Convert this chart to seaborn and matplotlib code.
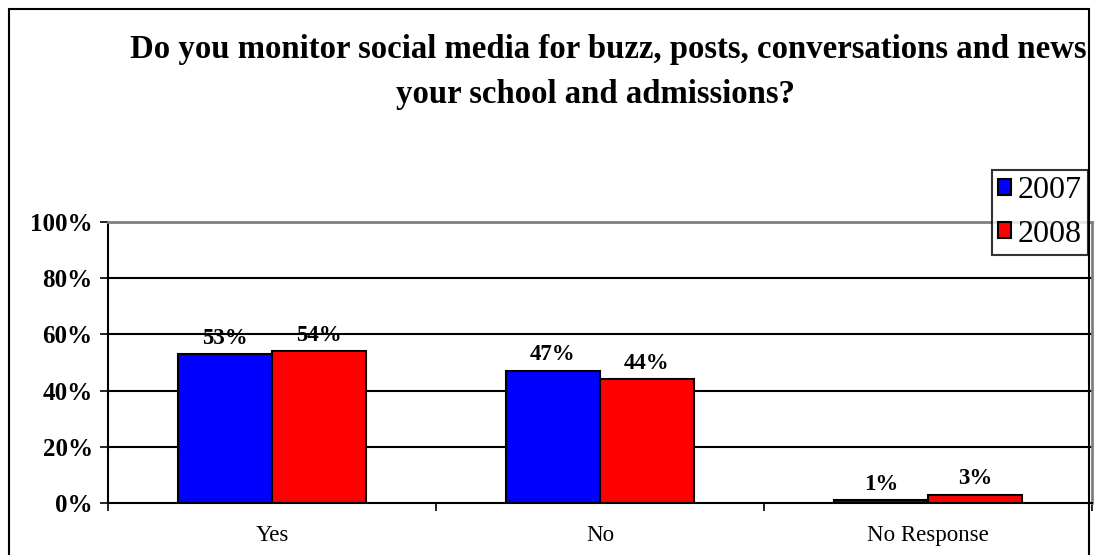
import pandas as pd
import matplotlib.pyplot as plt
import seaborn as sns
from matplotlib.patches import Rectangle
from matplotlib.ticker import FuncFormatter

# Data
categories = ['Yes', 'No', 'No Response']
years = ['2007', '2008']
values_2007 = [53, 47, 1]
values_2008 = [54, 44, 3]
colors = ['#0000FF', '#FF0000']
y_ticks = [0, 20, 40, 60, 80, 100]

df = pd.DataFrame({
    'answer': categories * 2,
    'year': [years[0]] * 3 + [years[1]] * 3,
    'pct': values_2007 + values_2008,
})

sns.set_style('white')
plt.rcParams['font.family'] = ['Liberation Serif', 'DejaVu Serif']
plt.rcParams['text.color'] = 'black'
plt.rcParams['xtick.color'] = 'black'
plt.rcParams['ytick.color'] = 'black'
plt.rcParams['axes.labelcolor'] = 'black'

fig = plt.figure(figsize=(11.02, 5.55), dpi=100)
ax = fig.add_axes([108 / 1102, 1 - 503 / 555, (1092 - 108) / 1102, (503 - 222) / 555])

sns.barplot(data=df, x='answer', y='pct', hue='year', order=categories,
            hue_order=years, palette=colors, width=0.573, saturation=1,
            edgecolor='black', linewidth=1.5, ax=ax)

ax.set_xlim(-0.5, 2.5)
ax.set_ylim(0, 100)
ax.set_yticks(y_ticks)
ax.yaxis.set_major_formatter(FuncFormatter(lambda v, p: f'{v:.0f}%'))
for t in y_ticks[1:-1]:
    ax.axhline(t, color='black', lw=1.5, zorder=0)

ax.set_xlabel('')
ax.set_ylabel('')
ax.tick_params(axis='y', which='major', direction='out', length=6, width=1.2,
               color='black', labelcolor='black', pad=5, labelsize=18, left=True)
for lbl in ax.get_yticklabels():
    lbl.set_fontweight('bold')
ax.tick_params(axis='x', which='major', length=0, pad=16, labelsize=16.5,
               labelcolor='black')
ax.set_xticks([-0.5, 0.5, 1.5, 2.5], minor=True)
ax.tick_params(axis='x', which='minor', direction='out', length=6, width=1.2,
               color='black', bottom=True)

for side in ['left', 'bottom']:
    ax.spines[side].set_color('black')
    ax.spines[side].set_linewidth(1.5)
for side in ['top', 'right']:
    ax.spines[side].set_color('#808080')
    ax.spines[side].set_linewidth(2)

for cont, vals in zip(ax.containers, [values_2007, values_2008]):
    ax.bar_label(cont, labels=[f'{v}%' for v in vals], padding=4,
                 fontsize=16.5, fontweight='bold', color='black')

handles, labels = ax.get_legend_handles_labels()
ax.get_legend().remove()
leg = fig.legend(handles, labels, loc='upper left',
                 bbox_to_anchor=(992 / 1102, 1 - 170 / 555),
                 fontsize=23, frameon=True, fancybox=False, edgecolor='black',
                 handlelength=0.4, handleheight=0.4, handletextpad=0.2,
                 borderpad=0.2, labelspacing=0.45, borderaxespad=0)
leg.get_frame().set_linewidth(1.5)
for txt in leg.get_texts():
    txt.set_color('black')

# Title
fig.text(130 / 1102, 1 - 58 / 555,
         'Do you monitor social media for buzz, posts, conversations and news',
         ha='left', va='baseline', fontsize=23.6, fontweight='bold', color='black')
fig.text(595 / 1102, 1 - 103 / 555, 'your school and admissions?',
         ha='center', va='baseline', fontsize=23.6, fontweight='bold', color='black')

# Chart area border
fig.patches.append(Rectangle((9 / 1102, -0.1), (1089 - 9) / 1102, 1.1 - 9 / 555,
                             transform=fig.transFigure, fill=False,
                             edgecolor='black', linewidth=1.5, zorder=10))

plt.savefig('out.png', dpi=100)
plt.close()
